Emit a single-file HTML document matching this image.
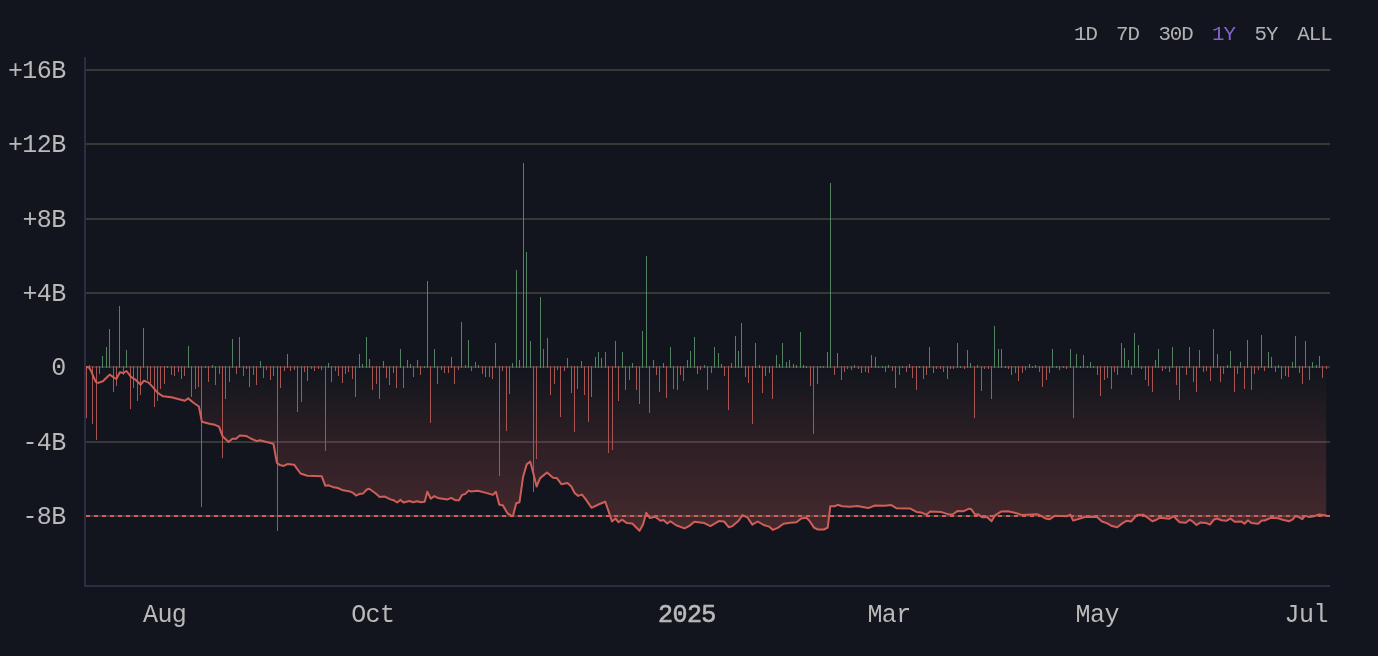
<!DOCTYPE html>
<html><head><meta charset="utf-8"><title>Net flow chart</title>
<style>
html,body{margin:0;padding:0;background:#12151d;}
body{width:1378px;height:656px;overflow:hidden;font-family:"Liberation Mono",monospace;}
svg{display:block;will-change:transform;}
svg text{font-family:"Liberation Mono",monospace;}
</style></head><body>
<svg width="1378" height="656" viewBox="0 0 1378 656">
<defs><linearGradient id="fg" gradientUnits="userSpaceOnUse" x1="0" y1="367" x2="0" y2="531"><stop offset="0" stop-color="#d8625c" stop-opacity="0.0"/><stop offset=".45" stop-color="#d8625c" stop-opacity=".135"/><stop offset="1" stop-color="#d8625c" stop-opacity="0.26"/></linearGradient></defs>
<rect width="1378" height="656" fill="#12151d"/>
<g fill="#383837" shape-rendering="crispEdges">
<rect x="86" y="515" width="1244" height="2"/>
<rect x="86" y="441" width="1244" height="2"/>
<rect x="86" y="366" width="1244" height="2"/>
<rect x="86" y="292" width="1244" height="2"/>
<rect x="86" y="218" width="1244" height="2"/>
<rect x="86" y="143" width="1244" height="2"/>
<rect x="86" y="69" width="1244" height="2"/>
</g>
<path d="M86.4,367.2 L86.4,367 L89.1,367.6 L91.4,371.4 L93.7,377.5 L96,382.1 L98.3,382.9 L102.9,381.3 L106.7,377.5 L109.7,374.6 L112.8,376.8 L116.3,379 L119.9,372.2 L123.4,373 L126.5,371 L131,376.8 L135.6,379.8 L140.7,384.7 L144,380.6 L148.6,382.6 L153.1,387.4 L157.7,392.8 L163.1,396.3 L171.4,397.3 L179.1,399.3 L184.8,400.8 L188.2,398.4 L193.5,402.7 L198.9,406.5 L201.9,421.7 L209.5,423.7 L214.9,424.8 L219,426.6 L222.5,436.2 L228.6,442 L232.4,438.8 L236.2,438.8 L239.7,435.4 L246.1,435.9 L250.7,438.5 L256.8,441.1 L259.8,440.3 L266.7,442 L273.4,443.8 L276.9,462.9 L279.9,465.1 L283.7,465.9 L287.5,464.1 L294.1,464.7 L300.5,473.5 L307.3,475.8 L321.8,476.3 L325.2,485.7 L328.7,485.3 L332.5,486.9 L337.8,488 L343.1,490.3 L350,491.4 L353.1,492.9 L356.1,495.6 L359.1,494.1 L363,493.6 L366.8,489.5 L369.1,488.8 L375.2,493 L379.7,497.1 L384.3,496.4 L390.4,499.4 L393.4,500.2 L397.2,502.5 L400.3,499.9 L403.6,502.5 L409.4,501 L413.2,502.2 L417.1,501.3 L420.9,502.2 L424.7,501.7 L427.3,491.8 L430.8,498.7 L434.3,496.1 L437.6,497.9 L447.5,499.4 L451.3,497.9 L455.2,500.2 L459,500.2 L462,494.9 L465.1,494.1 L468.6,490.6 L471.2,491.5 L477.6,490.7 L485.2,492.6 L492.9,494.9 L495.9,491.8 L499.3,504.8 L502.8,505.2 L507.3,513.1 L511.1,515.7 L513.1,515.4 L516.2,503.2 L519.5,502.2 L523,477.3 L526.7,464.4 L530.2,461.6 L533.2,472.8 L536.6,486.5 L540.1,478.1 L547,472.5 L553.1,477.8 L556.9,478.1 L561.4,484.2 L567.5,483.1 L571.3,486.5 L574.8,493.3 L578.2,495.9 L582,494.6 L585.8,499.4 L591.5,507.8 L599.5,504 L605.3,501.7 L608.7,511.6 L612,521.5 L615.5,518.5 L618.6,522.3 L621.9,519.7 L627,523.1 L632.3,523.5 L639.5,530.7 L643,524.6 L646.3,512.8 L649.8,518 L655.2,516.7 L660.5,520.8 L663.5,520 L667.3,523.5 L670.4,521.2 L676.1,525.3 L684.5,528.4 L689,526.1 L694.4,521.8 L704.3,523.1 L710.4,526.1 L718.8,521.1 L724.1,521.5 L728.7,527.2 L732.5,526.1 L738.6,520.8 L742.4,515.1 L747.7,517.7 L752.3,524.6 L757.6,521.5 L763.7,525 L769.1,526.6 L772.9,529.9 L778.2,527.6 L783.5,523.8 L790.4,522.7 L796.5,522.3 L801.1,518.5 L806.4,517.7 L809.4,520.8 L814,527.6 L817.8,529.5 L823.9,529.5 L827.7,527.6 L830.3,506.3 L834.6,506.3 L837.6,504.8 L842.2,506.3 L849.8,506.7 L857.4,506 L868.1,508.1 L875,505.5 L884.5,505.8 L891.3,505.1 L896.7,508.3 L910.4,508.6 L916.5,511.9 L921,512.4 L926.4,514.7 L930.2,511.6 L941.6,512.1 L948.5,514.4 L953,514.2 L957.6,510.9 L963.7,511.2 L969.1,508.6 L971.3,509.3 L975.2,514.7 L978.2,514.2 L982,517.3 L987.3,517.3 L991.5,521.2 L995,515.4 L1001.1,511.6 L1007.9,511.2 L1014.8,512.7 L1022.4,515.1 L1036.9,514.2 L1040.7,515.7 L1045.3,518.5 L1049.8,519.2 L1055.2,515.7 L1066.6,516.2 L1070.4,514.7 L1073.2,520.6 L1079.1,518.8 L1085.2,517 L1096.7,516.7 L1102,521.5 L1107.3,523.4 L1111.9,526.1 L1117.2,527.2 L1122.6,523.1 L1126.4,520.8 L1131,521.5 L1137.1,515 L1143.1,514.7 L1147.7,517.7 L1152.3,521.2 L1156.1,520 L1159.9,517.7 L1169.1,518.8 L1173.6,516.2 L1179.7,522.3 L1185.8,522.7 L1189.6,519.7 L1192.7,521.5 L1196.5,524.9 L1200.3,522.6 L1206.4,523.1 L1209.9,524.6 L1214,519.5 L1217.1,518.5 L1221.6,520.3 L1226.2,520.8 L1230.5,518.5 L1234.6,521.8 L1241.4,521.5 L1244.5,523.8 L1248,520.3 L1251.3,523.1 L1258.2,523.8 L1261.7,520.6 L1264.6,520.5 L1270.7,517.8 L1278.3,518.2 L1283.6,520.1 L1289,521.3 L1292.8,519.3 L1295.1,516.3 L1298.1,516.7 L1302.3,519 L1305,515.9 L1309.5,517.1 L1314.9,515.9 L1319.1,514.5 L1326.2,515.5 L1326.2,367.2 Z" fill="url(#fg)"/>
<g fill="#538261" shape-rendering="crispEdges">
<rect x="89" y="365" width="1" height="3"/><rect x="102" y="356" width="1" height="12"/><rect x="106" y="347" width="1" height="21"/><rect x="109" y="329" width="1" height="39"/><rect x="119" y="306" width="1" height="62"/><rect x="126" y="350" width="1" height="18"/><rect x="143" y="328" width="1" height="40"/><rect x="167" y="366" width="1" height="2"/><rect x="188" y="346" width="1" height="22"/><rect x="205" y="366" width="1" height="2"/><rect x="212" y="365" width="1" height="3"/><rect x="232" y="339" width="1" height="29"/><rect x="239" y="337" width="1" height="31"/><rect x="260" y="361" width="1" height="7"/><rect x="287" y="354" width="1" height="14"/><rect x="328" y="363" width="1" height="5"/><rect x="359" y="354" width="1" height="14"/><rect x="362" y="364" width="1" height="4"/><rect x="366" y="337" width="1" height="31"/><rect x="369" y="359" width="1" height="9"/><rect x="383" y="361" width="1" height="7"/><rect x="400" y="349" width="1" height="19"/><rect x="407" y="360" width="1" height="8"/><rect x="410" y="364" width="1" height="4"/><rect x="417" y="360" width="1" height="8"/><rect x="424" y="366" width="1" height="2"/><rect x="427" y="281" width="1" height="87"/><rect x="434" y="349" width="1" height="19"/><rect x="451" y="357" width="1" height="11"/><rect x="461" y="322" width="1" height="46"/><rect x="465" y="365" width="1" height="3"/><rect x="468" y="340" width="1" height="28"/><rect x="475" y="362" width="1" height="6"/><rect x="478" y="365" width="1" height="3"/><rect x="495" y="343" width="1" height="25"/><rect x="512" y="363" width="1" height="5"/><rect x="516" y="270" width="1" height="98"/><rect x="519" y="360" width="1" height="8"/><rect x="523" y="163" width="1" height="205"/><rect x="526" y="252" width="1" height="116"/><rect x="530" y="341" width="1" height="27"/><rect x="540" y="297" width="1" height="71"/><rect x="543" y="349" width="1" height="19"/><rect x="547" y="338" width="1" height="30"/><rect x="567" y="358" width="1" height="10"/><rect x="581" y="361" width="1" height="7"/><rect x="595" y="357" width="1" height="11"/><rect x="598" y="352" width="1" height="16"/><rect x="601" y="358" width="1" height="10"/><rect x="605" y="352" width="1" height="16"/><rect x="615" y="341" width="1" height="27"/><rect x="622" y="352" width="1" height="16"/><rect x="632" y="363" width="1" height="5"/><rect x="642" y="331" width="1" height="37"/><rect x="646" y="256" width="1" height="112"/><rect x="653" y="360" width="1" height="8"/><rect x="663" y="363" width="1" height="5"/><rect x="670" y="347" width="1" height="21"/><rect x="687" y="360" width="1" height="8"/><rect x="690" y="351" width="1" height="17"/><rect x="694" y="337" width="1" height="31"/><rect x="704" y="365" width="1" height="3"/><rect x="714" y="347" width="1" height="21"/><rect x="718" y="353" width="1" height="15"/><rect x="721" y="364" width="1" height="4"/><rect x="731" y="363" width="1" height="5"/><rect x="735" y="336" width="1" height="32"/><rect x="738" y="351" width="1" height="17"/><rect x="741" y="323" width="1" height="45"/><rect x="755" y="343" width="1" height="25"/><rect x="759" y="365" width="1" height="3"/><rect x="776" y="355" width="1" height="13"/><rect x="779" y="364" width="1" height="4"/><rect x="782" y="343" width="1" height="25"/><rect x="786" y="362" width="1" height="6"/><rect x="789" y="360" width="1" height="8"/><rect x="793" y="364" width="1" height="4"/><rect x="796" y="365" width="1" height="3"/><rect x="800" y="332" width="1" height="36"/><rect x="803" y="365" width="1" height="3"/><rect x="806" y="366" width="1" height="2"/><rect x="820" y="366" width="1" height="2"/><rect x="823" y="366" width="1" height="2"/><rect x="827" y="352" width="1" height="16"/><rect x="830" y="183" width="1" height="185"/><rect x="837" y="353" width="1" height="15"/><rect x="854" y="365" width="1" height="3"/><rect x="871" y="355" width="1" height="13"/><rect x="875" y="357" width="1" height="11"/><rect x="878" y="366" width="1" height="2"/><rect x="882" y="366" width="1" height="2"/><rect x="888" y="365" width="1" height="3"/><rect x="902" y="366" width="1" height="2"/><rect x="909" y="364" width="1" height="4"/><rect x="919" y="366" width="1" height="2"/><rect x="929" y="347" width="1" height="21"/><rect x="957" y="343" width="1" height="25"/><rect x="960" y="366" width="1" height="2"/><rect x="967" y="350" width="1" height="18"/><rect x="970" y="363" width="1" height="5"/><rect x="977" y="365" width="1" height="3"/><rect x="994" y="326" width="1" height="42"/><rect x="998" y="349" width="1" height="19"/><rect x="1001" y="349" width="1" height="19"/><rect x="1005" y="366" width="1" height="2"/><rect x="1029" y="364" width="1" height="4"/><rect x="1032" y="366" width="1" height="2"/><rect x="1035" y="365" width="1" height="3"/><rect x="1052" y="349" width="1" height="19"/><rect x="1056" y="366" width="1" height="2"/><rect x="1063" y="366" width="1" height="2"/><rect x="1070" y="349" width="1" height="19"/><rect x="1076" y="354" width="1" height="14"/><rect x="1080" y="366" width="1" height="2"/><rect x="1083" y="355" width="1" height="13"/><rect x="1087" y="366" width="1" height="2"/><rect x="1090" y="362" width="1" height="6"/><rect x="1093" y="366" width="1" height="2"/><rect x="1121" y="343" width="1" height="25"/><rect x="1124" y="348" width="1" height="20"/><rect x="1128" y="360" width="1" height="8"/><rect x="1134" y="333" width="1" height="35"/><rect x="1138" y="345" width="1" height="23"/><rect x="1155" y="360" width="1" height="8"/><rect x="1158" y="349" width="1" height="19"/><rect x="1172" y="347" width="1" height="21"/><rect x="1182" y="366" width="1" height="2"/><rect x="1189" y="347" width="1" height="21"/><rect x="1199" y="350" width="1" height="18"/><rect x="1213" y="329" width="1" height="39"/><rect x="1217" y="354" width="1" height="14"/><rect x="1227" y="365" width="1" height="3"/><rect x="1230" y="351" width="1" height="17"/><rect x="1240" y="362" width="1" height="6"/><rect x="1247" y="340" width="1" height="28"/><rect x="1261" y="335" width="1" height="33"/><rect x="1268" y="352" width="1" height="16"/><rect x="1271" y="357" width="1" height="11"/><rect x="1278" y="365" width="1" height="3"/><rect x="1292" y="362" width="1" height="6"/><rect x="1295" y="336" width="1" height="32"/><rect x="1305" y="341" width="1" height="27"/><rect x="1312" y="362" width="1" height="6"/><rect x="1316" y="365" width="1" height="3"/><rect x="1319" y="356" width="1" height="12"/>
</g>
<g fill="#a85451" shape-rendering="crispEdges">
<rect x="86" y="366" width="1" height="52"/><rect x="92" y="366" width="1" height="58"/><rect x="96" y="366" width="1" height="74"/><rect x="99" y="366" width="1" height="8"/><rect x="113" y="366" width="1" height="26"/><rect x="116" y="366" width="1" height="20"/><rect x="123" y="366" width="1" height="9"/><rect x="130" y="366" width="1" height="43"/><rect x="133" y="366" width="1" height="22"/><rect x="137" y="366" width="1" height="35"/><rect x="140" y="366" width="1" height="29"/><rect x="147" y="366" width="1" height="14"/><rect x="150" y="366" width="1" height="17"/><rect x="154" y="366" width="1" height="41"/><rect x="157" y="366" width="1" height="35"/><rect x="160" y="366" width="1" height="23"/><rect x="164" y="366" width="1" height="18"/><rect x="171" y="366" width="1" height="9"/><rect x="174" y="366" width="1" height="10"/><rect x="178" y="366" width="1" height="6"/><rect x="181" y="366" width="1" height="13"/><rect x="184" y="366" width="1" height="10"/><rect x="191" y="366" width="1" height="31"/><rect x="195" y="366" width="1" height="23"/><rect x="198" y="366" width="1" height="21"/><rect x="201" y="366" width="1" height="141"/><rect x="208" y="366" width="1" height="16"/><rect x="215" y="366" width="1" height="19"/><rect x="219" y="366" width="1" height="8"/><rect x="222" y="366" width="1" height="92"/><rect x="225" y="366" width="1" height="33"/><rect x="229" y="366" width="1" height="16"/><rect x="236" y="366" width="1" height="8"/><rect x="243" y="366" width="1" height="10"/><rect x="246" y="366" width="1" height="3"/><rect x="249" y="366" width="1" height="21"/><rect x="253" y="366" width="1" height="9"/><rect x="256" y="366" width="1" height="19"/><rect x="263" y="366" width="1" height="12"/><rect x="266" y="366" width="1" height="4"/><rect x="270" y="366" width="1" height="14"/><rect x="273" y="366" width="1" height="10"/><rect x="277" y="366" width="1" height="165"/><rect x="280" y="366" width="1" height="22"/><rect x="284" y="366" width="1" height="5"/><rect x="290" y="366" width="1" height="5"/><rect x="294" y="366" width="1" height="4"/><rect x="297" y="366" width="1" height="46"/><rect x="301" y="366" width="1" height="36"/><rect x="304" y="366" width="1" height="6"/><rect x="307" y="366" width="1" height="15"/><rect x="311" y="366" width="1" height="3"/><rect x="314" y="366" width="1" height="5"/><rect x="318" y="366" width="1" height="3"/><rect x="321" y="366" width="1" height="4"/><rect x="325" y="366" width="1" height="85"/><rect x="331" y="366" width="1" height="16"/><rect x="335" y="366" width="1" height="5"/><rect x="338" y="366" width="1" height="10"/><rect x="342" y="366" width="1" height="17"/><rect x="345" y="366" width="1" height="8"/><rect x="348" y="366" width="1" height="6"/><rect x="352" y="366" width="1" height="13"/><rect x="355" y="366" width="1" height="31"/><rect x="372" y="366" width="1" height="24"/><rect x="376" y="366" width="1" height="18"/><rect x="379" y="366" width="1" height="33"/><rect x="386" y="366" width="1" height="12"/><rect x="389" y="366" width="1" height="19"/><rect x="393" y="366" width="1" height="7"/><rect x="396" y="366" width="1" height="22"/><rect x="403" y="366" width="1" height="22"/><rect x="413" y="366" width="1" height="11"/><rect x="420" y="366" width="1" height="9"/><rect x="430" y="366" width="1" height="57"/><rect x="437" y="366" width="1" height="18"/><rect x="441" y="366" width="1" height="4"/><rect x="444" y="366" width="1" height="7"/><rect x="448" y="366" width="1" height="7"/><rect x="454" y="366" width="1" height="18"/><rect x="458" y="366" width="1" height="4"/><rect x="471" y="366" width="1" height="5"/><rect x="482" y="366" width="1" height="8"/><rect x="485" y="366" width="1" height="11"/><rect x="489" y="366" width="1" height="11"/><rect x="492" y="366" width="1" height="13"/><rect x="499" y="366" width="1" height="110"/><rect x="502" y="366" width="1" height="5"/><rect x="506" y="366" width="1" height="65"/><rect x="509" y="366" width="1" height="28"/><rect x="533" y="366" width="1" height="126"/><rect x="536" y="366" width="1" height="93"/><rect x="550" y="366" width="1" height="29"/><rect x="554" y="366" width="1" height="18"/><rect x="557" y="366" width="1" height="4"/><rect x="560" y="366" width="1" height="51"/><rect x="564" y="366" width="1" height="5"/><rect x="571" y="366" width="1" height="27"/><rect x="574" y="366" width="1" height="66"/><rect x="577" y="366" width="1" height="23"/><rect x="584" y="366" width="1" height="29"/><rect x="588" y="366" width="1" height="56"/><rect x="591" y="366" width="1" height="31"/><rect x="608" y="366" width="1" height="87"/><rect x="612" y="366" width="1" height="84"/><rect x="618" y="366" width="1" height="35"/><rect x="625" y="366" width="1" height="24"/><rect x="629" y="366" width="1" height="14"/><rect x="636" y="366" width="1" height="24"/><rect x="639" y="366" width="1" height="38"/><rect x="649" y="366" width="1" height="47"/><rect x="656" y="366" width="1" height="9"/><rect x="659" y="366" width="1" height="26"/><rect x="666" y="366" width="1" height="32"/><rect x="673" y="366" width="1" height="23"/><rect x="677" y="366" width="1" height="24"/><rect x="680" y="366" width="1" height="9"/><rect x="683" y="366" width="1" height="15"/><rect x="697" y="366" width="1" height="8"/><rect x="700" y="366" width="1" height="4"/><rect x="707" y="366" width="1" height="24"/><rect x="711" y="366" width="1" height="7"/><rect x="724" y="366" width="1" height="10"/><rect x="728" y="366" width="1" height="44"/><rect x="745" y="366" width="1" height="11"/><rect x="748" y="366" width="1" height="17"/><rect x="752" y="366" width="1" height="58"/><rect x="762" y="366" width="1" height="27"/><rect x="765" y="366" width="1" height="10"/><rect x="769" y="366" width="1" height="7"/><rect x="772" y="366" width="1" height="33"/><rect x="810" y="366" width="1" height="20"/><rect x="813" y="366" width="1" height="68"/><rect x="817" y="366" width="1" height="18"/><rect x="834" y="366" width="1" height="9"/><rect x="841" y="366" width="1" height="14"/><rect x="844" y="366" width="1" height="6"/><rect x="847" y="366" width="1" height="3"/><rect x="851" y="366" width="1" height="4"/><rect x="858" y="366" width="1" height="3"/><rect x="861" y="366" width="1" height="7"/><rect x="865" y="366" width="1" height="6"/><rect x="868" y="366" width="1" height="7"/><rect x="885" y="366" width="1" height="6"/><rect x="892" y="366" width="1" height="5"/><rect x="895" y="366" width="1" height="22"/><rect x="899" y="366" width="1" height="9"/><rect x="906" y="366" width="1" height="6"/><rect x="912" y="366" width="1" height="12"/><rect x="916" y="366" width="1" height="24"/><rect x="923" y="366" width="1" height="13"/><rect x="926" y="366" width="1" height="9"/><rect x="933" y="366" width="1" height="7"/><rect x="936" y="366" width="1" height="3"/><rect x="940" y="366" width="1" height="3"/><rect x="943" y="366" width="1" height="6"/><rect x="947" y="366" width="1" height="13"/><rect x="950" y="366" width="1" height="3"/><rect x="953" y="366" width="1" height="3"/><rect x="964" y="366" width="1" height="3"/><rect x="974" y="366" width="1" height="52"/><rect x="981" y="366" width="1" height="25"/><rect x="984" y="366" width="1" height="3"/><rect x="988" y="366" width="1" height="3"/><rect x="991" y="366" width="1" height="33"/><rect x="1008" y="366" width="1" height="3"/><rect x="1011" y="366" width="1" height="9"/><rect x="1015" y="366" width="1" height="7"/><rect x="1018" y="366" width="1" height="15"/><rect x="1022" y="366" width="1" height="7"/><rect x="1025" y="366" width="1" height="4"/><rect x="1039" y="366" width="1" height="6"/><rect x="1042" y="366" width="1" height="21"/><rect x="1046" y="366" width="1" height="14"/><rect x="1049" y="366" width="1" height="7"/><rect x="1059" y="366" width="1" height="4"/><rect x="1066" y="366" width="1" height="3"/><rect x="1073" y="366" width="1" height="52"/><rect x="1097" y="366" width="1" height="9"/><rect x="1100" y="366" width="1" height="30"/><rect x="1104" y="366" width="1" height="14"/><rect x="1107" y="366" width="1" height="12"/><rect x="1111" y="366" width="1" height="23"/><rect x="1114" y="366" width="1" height="6"/><rect x="1117" y="366" width="1" height="9"/><rect x="1131" y="366" width="1" height="9"/><rect x="1141" y="366" width="1" height="3"/><rect x="1145" y="366" width="1" height="14"/><rect x="1148" y="366" width="1" height="20"/><rect x="1152" y="366" width="1" height="26"/><rect x="1162" y="366" width="1" height="5"/><rect x="1165" y="366" width="1" height="3"/><rect x="1169" y="366" width="1" height="6"/><rect x="1176" y="366" width="1" height="19"/><rect x="1179" y="366" width="1" height="34"/><rect x="1186" y="366" width="1" height="9"/><rect x="1193" y="366" width="1" height="16"/><rect x="1196" y="366" width="1" height="26"/><rect x="1203" y="366" width="1" height="6"/><rect x="1206" y="366" width="1" height="5"/><rect x="1210" y="366" width="1" height="15"/><rect x="1220" y="366" width="1" height="16"/><rect x="1223" y="366" width="1" height="8"/><rect x="1234" y="366" width="1" height="26"/><rect x="1237" y="366" width="1" height="8"/><rect x="1244" y="366" width="1" height="23"/><rect x="1251" y="366" width="1" height="24"/><rect x="1254" y="366" width="1" height="8"/><rect x="1258" y="366" width="1" height="4"/><rect x="1264" y="366" width="1" height="5"/><rect x="1275" y="366" width="1" height="6"/><rect x="1281" y="366" width="1" height="13"/><rect x="1285" y="366" width="1" height="10"/><rect x="1288" y="366" width="1" height="11"/><rect x="1299" y="366" width="1" height="7"/><rect x="1302" y="366" width="1" height="18"/><rect x="1309" y="366" width="1" height="14"/><rect x="1322" y="366" width="1" height="12"/><rect x="1326" y="366" width="1" height="3"/>
</g>
<line x1="86" y1="516" x2="1330" y2="516" stroke="#cf5e58" stroke-width="2" stroke-dasharray="4 4"/>
<polyline points="86.4,367 89.1,367.6 91.4,371.4 93.7,377.5 96,382.1 98.3,382.9 102.9,381.3 106.7,377.5 109.7,374.6 112.8,376.8 116.3,379 119.9,372.2 123.4,373 126.5,371 131,376.8 135.6,379.8 140.7,384.7 144,380.6 148.6,382.6 153.1,387.4 157.7,392.8 163.1,396.3 171.4,397.3 179.1,399.3 184.8,400.8 188.2,398.4 193.5,402.7 198.9,406.5 201.9,421.7 209.5,423.7 214.9,424.8 219,426.6 222.5,436.2 228.6,442 232.4,438.8 236.2,438.8 239.7,435.4 246.1,435.9 250.7,438.5 256.8,441.1 259.8,440.3 266.7,442 273.4,443.8 276.9,462.9 279.9,465.1 283.7,465.9 287.5,464.1 294.1,464.7 300.5,473.5 307.3,475.8 321.8,476.3 325.2,485.7 328.7,485.3 332.5,486.9 337.8,488 343.1,490.3 350,491.4 353.1,492.9 356.1,495.6 359.1,494.1 363,493.6 366.8,489.5 369.1,488.8 375.2,493 379.7,497.1 384.3,496.4 390.4,499.4 393.4,500.2 397.2,502.5 400.3,499.9 403.6,502.5 409.4,501 413.2,502.2 417.1,501.3 420.9,502.2 424.7,501.7 427.3,491.8 430.8,498.7 434.3,496.1 437.6,497.9 447.5,499.4 451.3,497.9 455.2,500.2 459,500.2 462,494.9 465.1,494.1 468.6,490.6 471.2,491.5 477.6,490.7 485.2,492.6 492.9,494.9 495.9,491.8 499.3,504.8 502.8,505.2 507.3,513.1 511.1,515.7 513.1,515.4 516.2,503.2 519.5,502.2 523,477.3 526.7,464.4 530.2,461.6 533.2,472.8 536.6,486.5 540.1,478.1 547,472.5 553.1,477.8 556.9,478.1 561.4,484.2 567.5,483.1 571.3,486.5 574.8,493.3 578.2,495.9 582,494.6 585.8,499.4 591.5,507.8 599.5,504 605.3,501.7 608.7,511.6 612,521.5 615.5,518.5 618.6,522.3 621.9,519.7 627,523.1 632.3,523.5 639.5,530.7 643,524.6 646.3,512.8 649.8,518 655.2,516.7 660.5,520.8 663.5,520 667.3,523.5 670.4,521.2 676.1,525.3 684.5,528.4 689,526.1 694.4,521.8 704.3,523.1 710.4,526.1 718.8,521.1 724.1,521.5 728.7,527.2 732.5,526.1 738.6,520.8 742.4,515.1 747.7,517.7 752.3,524.6 757.6,521.5 763.7,525 769.1,526.6 772.9,529.9 778.2,527.6 783.5,523.8 790.4,522.7 796.5,522.3 801.1,518.5 806.4,517.7 809.4,520.8 814,527.6 817.8,529.5 823.9,529.5 827.7,527.6 830.3,506.3 834.6,506.3 837.6,504.8 842.2,506.3 849.8,506.7 857.4,506 868.1,508.1 875,505.5 884.5,505.8 891.3,505.1 896.7,508.3 910.4,508.6 916.5,511.9 921,512.4 926.4,514.7 930.2,511.6 941.6,512.1 948.5,514.4 953,514.2 957.6,510.9 963.7,511.2 969.1,508.6 971.3,509.3 975.2,514.7 978.2,514.2 982,517.3 987.3,517.3 991.5,521.2 995,515.4 1001.1,511.6 1007.9,511.2 1014.8,512.7 1022.4,515.1 1036.9,514.2 1040.7,515.7 1045.3,518.5 1049.8,519.2 1055.2,515.7 1066.6,516.2 1070.4,514.7 1073.2,520.6 1079.1,518.8 1085.2,517 1096.7,516.7 1102,521.5 1107.3,523.4 1111.9,526.1 1117.2,527.2 1122.6,523.1 1126.4,520.8 1131,521.5 1137.1,515 1143.1,514.7 1147.7,517.7 1152.3,521.2 1156.1,520 1159.9,517.7 1169.1,518.8 1173.6,516.2 1179.7,522.3 1185.8,522.7 1189.6,519.7 1192.7,521.5 1196.5,524.9 1200.3,522.6 1206.4,523.1 1209.9,524.6 1214,519.5 1217.1,518.5 1221.6,520.3 1226.2,520.8 1230.5,518.5 1234.6,521.8 1241.4,521.5 1244.5,523.8 1248,520.3 1251.3,523.1 1258.2,523.8 1261.7,520.6 1264.6,520.5 1270.7,517.8 1278.3,518.2 1283.6,520.1 1289,521.3 1292.8,519.3 1295.1,516.3 1298.1,516.7 1302.3,519 1305,515.9 1309.5,517.1 1314.9,515.9 1319.1,514.5 1326.2,515.5" fill="none" stroke="#cf5e58" stroke-width="2" stroke-linejoin="round" stroke-linecap="round"/>
<path d="M84,57 H86 V585 H1330 V587 H84 Z" fill="#2c2c44" shape-rendering="crispEdges"/>
<g class="t" fill="#b9b9b9" font-size="25" letter-spacing="-0.6" text-anchor="end">
<text x="65.6" y="524.1">-8B</text>
<text x="65.6" y="450.1">-4B</text>
<text x="65.6" y="375.1">0</text>
<text x="65.6" y="301.1">+4B</text>
<text x="65.6" y="227.1">+8B</text>
<text x="65.6" y="152.1">+12B</text>
<text x="65.6" y="78.1">+16B</text>
</g>
<g class="t" fill="#b9b9b9" font-size="25" letter-spacing="-0.6" text-anchor="middle">
<text x="164.6" y="622.4">Aug</text>
<text x="372.8" y="622.4">Oct</text>
<text x="686.9" y="622.4" stroke="#b9b9b9" stroke-width="0.6" stroke-linejoin="round">2025</text>
<text x="889" y="622.4">Mar</text>
<text x="1097.2" y="622.4">May</text>
<text x="1306.2" y="622.4">Jul</text>
</g>
<g class="t" fill="#b2b2b2" font-size="20.8" letter-spacing="-1">
<text x="1074" y="39.9">1D</text>
<text x="1116.1" y="39.9">7D</text>
<text x="1158.4" y="39.9">30D</text>
<text x="1212.1" y="39.9" fill="#8661cf">1Y</text>
<text x="1254.6" y="39.9">5Y</text>
<text x="1297.2" y="39.9">ALL</text>
</g>
</svg>
</body></html>
